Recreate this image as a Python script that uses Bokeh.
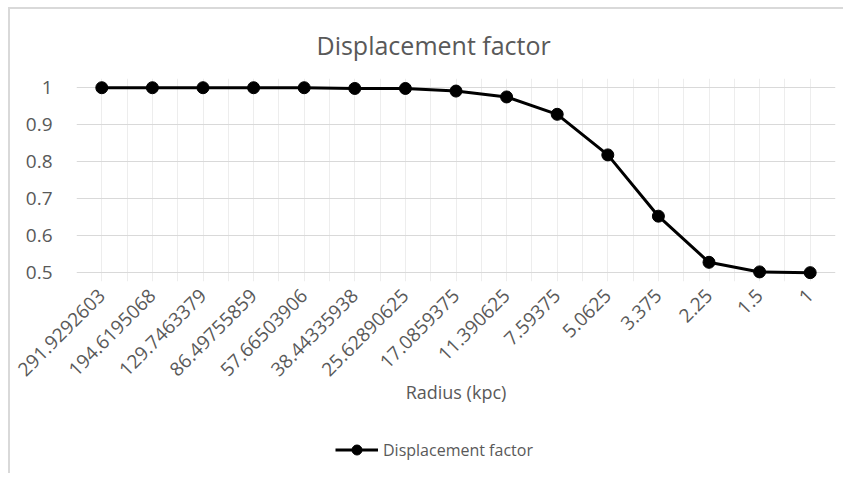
import math
from bokeh.plotting import figure
from bokeh.layouts import column
from bokeh.models import FixedTicker, Legend, LegendItem, Range1d
from bokeh.embed import file_html
from bokeh.resources import INLINE

# ---- data ----
radius_labels = ["291.9292603", "194.6195068", "129.7463379", "86.49755859",
                 "57.66503906", "38.44335938", "25.62890625", "17.0859375",
                 "11.390625", "7.59375", "5.0625", "3.375", "2.25", "1.5", "1"]
displacement = [1.0, 1.0, 1.0, 1.0, 1.0, 0.998, 0.998, 0.991, 0.975,
                0.928, 0.818, 0.652, 0.527, 0.501, 0.499]
y_ticks = [0.5, 0.6, 0.7, 0.8, 0.9, 1.0]
y_tick_labels = ["0.5", "0.6", "0.7", "0.8", "0.9", "1"]
title_text = "Displacement factor"
x_title = "Radius (kpc)"
series_name = "Displacement factor"

n = len(radius_labels)
xs = list(range(n))

GREY = "#595959"
FONT = "Open Sans"
W = 833

p = figure(width=W, height=412, output_backend="svg", toolbar_location=None,
           x_range=(-0.5, n - 0.5), y_range=(0.475, 1.025),
           min_border_left=66, min_border_right=8, min_border_top=69,
           min_border_bottom=140, title=title_text)
p.outline_line_color = None
p.background_fill_color = "white"
p.border_fill_color = "white"

p.title.align = "left"
p.title.offset = 240
p.title.standoff = 33
p.title.text_font = FONT
p.title.text_font_size = "25px"
p.title.text_font_style = "normal"
p.title.text_color = GREY

# axes
p.xaxis.ticker = FixedTicker(ticks=xs, minor_ticks=[i - 0.5 for i in range(n + 1)])
p.xaxis.major_label_overrides = {i: lab for i, lab in enumerate(radius_labels)}
p.xaxis.major_label_orientation = math.pi / 4
p.yaxis.ticker = FixedTicker(ticks=y_ticks)
p.yaxis.major_label_overrides = {t: lab for t, lab in zip(y_ticks, y_tick_labels)}
for ax in (p.xaxis, p.yaxis):
    ax.axis_line_color = None
    ax.major_tick_line_color = None
    ax.minor_tick_line_color = None
    ax.major_label_text_color = GREY
    ax.major_label_text_font = FONT
    ax.major_label_text_font_size = "19px"
p.xaxis.major_label_standoff = 5
p.yaxis.major_label_standoff = 18
p.xaxis.axis_label = x_title
p.xaxis.axis_label_text_font = FONT
p.xaxis.axis_label_text_font_size = "18px"
p.xaxis.axis_label_text_font_style = "normal"
p.xaxis.axis_label_text_color = GREY
p.xaxis.axis_label_standoff = -5

# grids
p.xgrid.grid_line_color = "#ededed"
p.xgrid.minor_grid_line_color = "#ededed"
p.ygrid.grid_line_color = "#d9d9d9"

# data
p.line(xs, displacement, line_color="black", line_width=3)
p.scatter(xs, displacement, size=12, marker="circle",
          fill_color="black", line_color="black")

# legend strip: its own small canvas (series drawn out of its view, only the key shows)
lg = figure(width=W, height=52, output_backend="svg", toolbar_location=None,
            x_axis_type=None, y_axis_type=None, min_border=0,
            x_range=Range1d(1000, 1001), y_range=Range1d(1000, 1001))
lg.outline_line_color = None
lg.background_fill_color = "white"
lg.border_fill_color = "white"
lg.xgrid.visible = False
lg.ygrid.visible = False
lg_ln = lg.line(xs, displacement, line_color="black", line_width=3)
lg_sc = lg.scatter(xs, displacement, size=12, marker="circle",
                   fill_color="black", line_color="black")
legend = Legend(items=[LegendItem(label=series_name, renderers=[lg_ln, lg_sc])],
                location=(259, 11), orientation="horizontal",
                border_line_color=None, background_fill_alpha=0,
                padding=0, margin=0, glyph_width=43, glyph_height=25,
                label_standoff=5, label_text_font=FONT,
                label_text_font_size="16px", label_text_color=GREY)
lg.add_layout(legend, "center")

layout = column(p, lg, spacing=0)
layout.styles = {"margin-left": "8px", "margin-top": "7px",
                 "border-left": "2px solid #d9d9d9", "border-top": "2px solid #d9d9d9"}

open("out.html", "w").write(file_html(layout, INLINE))
